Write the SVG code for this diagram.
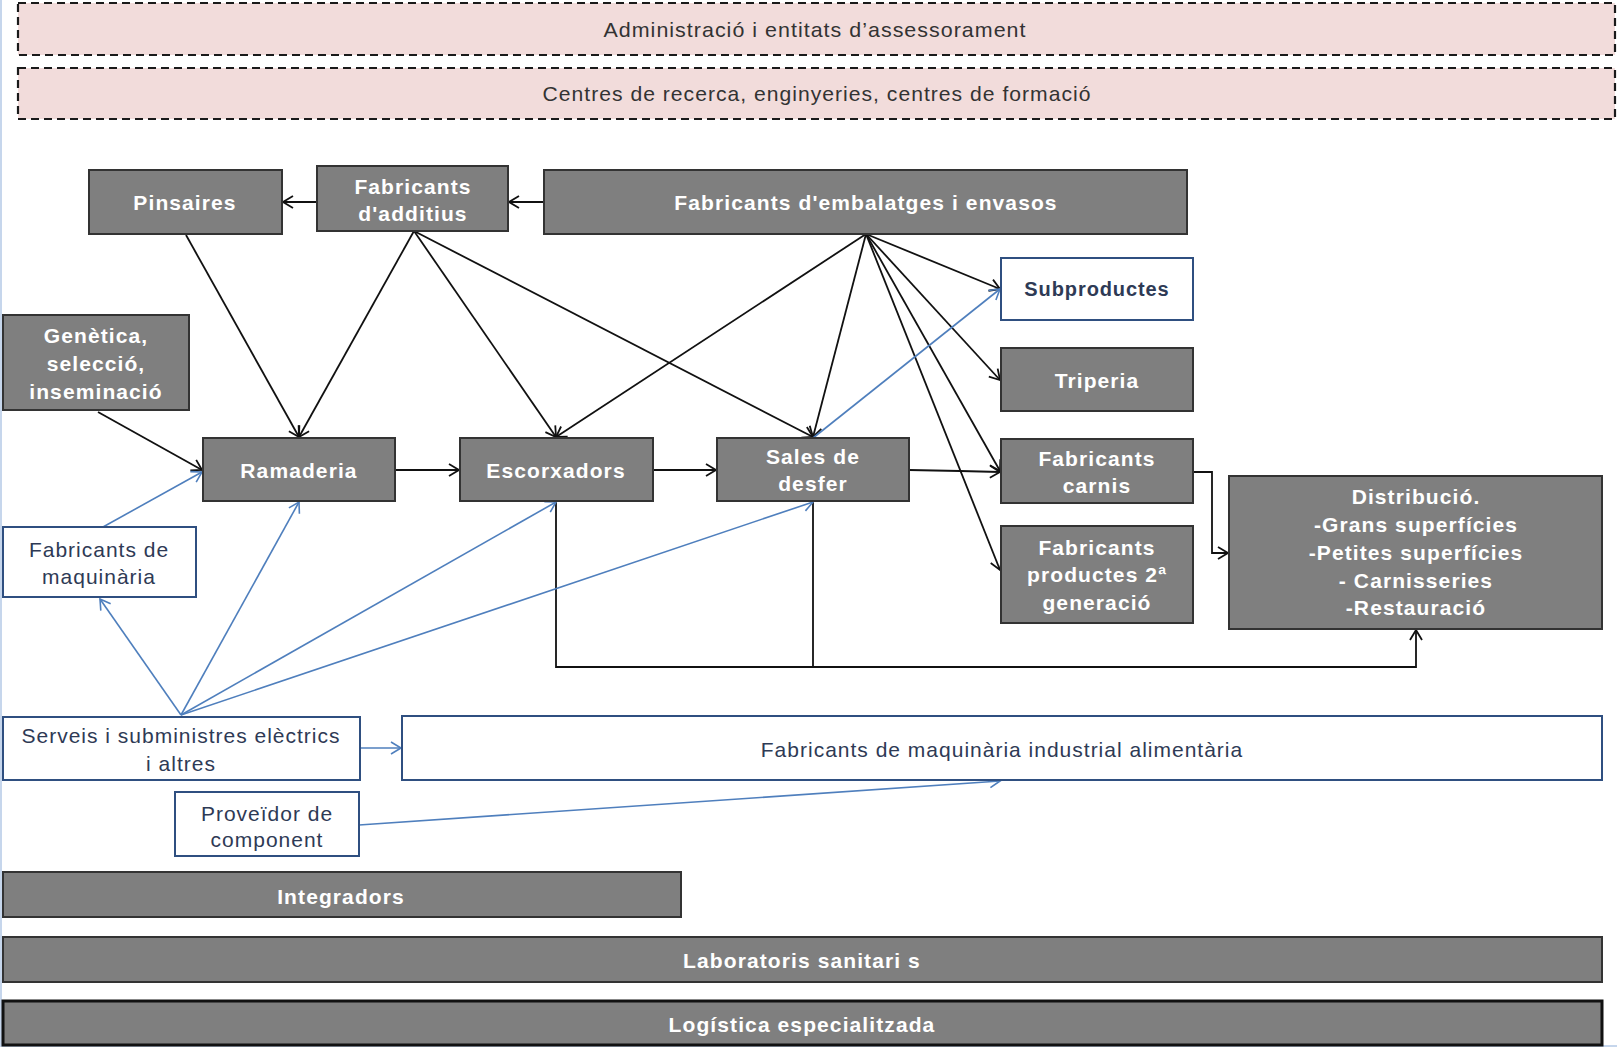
<svg xmlns="http://www.w3.org/2000/svg" width="1617" height="1048" viewBox="0 0 1617 1048">
<style>
.band{fill:#f2dcdb;stroke:#1a1a1a;stroke-width:2.2;stroke-dasharray:8 5}
.bandt{font-family:"Liberation Sans",Arial,sans-serif;font-size:21px;fill:#333;text-anchor:middle;dominant-baseline:central;letter-spacing:1px}
.dk{fill:#7f7f7f;stroke:#333;stroke-width:2}
.dkt{font-family:"Liberation Sans",Arial,sans-serif;font-size:21px;font-weight:bold;fill:#fff;text-anchor:middle;dominant-baseline:central;letter-spacing:1.1px}
.wb{fill:#fff;stroke:#2f4f80;stroke-width:2}
.wbt{font-family:"Liberation Sans",Arial,sans-serif;font-size:21px;fill:#2e3a55;text-anchor:middle;dominant-baseline:central;letter-spacing:1px}
.bl{fill:none;stroke:#111;stroke-width:1.8}
.bu{fill:none;stroke:#4f7fbd;stroke-width:1.6}
</style>
<defs>
<marker id="ab" markerUnits="userSpaceOnUse" markerWidth="16" markerHeight="16" refX="12" refY="7" orient="auto">
<path d="M2,1 L12,7 L2,13" fill="none" stroke="#111" stroke-width="1.8"/>
</marker>
<marker id="au" markerUnits="userSpaceOnUse" markerWidth="16" markerHeight="16" refX="12" refY="7" orient="auto">
<path d="M2,1 L12,7 L2,13" fill="none" stroke="#4f7fbd" stroke-width="1.6"/>
</marker>
</defs>
<rect width="1617" height="1048" fill="#fff"/>
<path d="M1,0 V1046 H1617" fill="none" stroke="#c6d6ec" stroke-width="2"/>

<g id="admin"><rect class="band" x="18" y="3" width="1597" height="52"/><text class="bandt" x="815" y="29" textLength="423" lengthAdjust="spacingAndGlyphs">Administració  i entitats d’assessorament</text></g>
<g id="centres"><rect class="band" x="18" y="68" width="1597" height="51"/><text class="bandt" x="817" y="93" textLength="549" lengthAdjust="spacingAndGlyphs">Centres de recerca, enginyeries, centres de formació</text></g>

<g id="connectors">
<line class="bl" x1="317" y1="202" x2="283" y2="202" marker-end="url(#ab)"/>
<line class="bl" x1="544" y1="202" x2="509" y2="202" marker-end="url(#ab)"/>
<line class="bl" x1="186" y1="235" x2="299" y2="437" marker-end="url(#ab)"/>
<line class="bl" x1="414" y1="231" x2="299" y2="437" marker-end="url(#ab)"/>
<line class="bl" x1="414" y1="231" x2="556" y2="437" marker-end="url(#ab)"/>
<line class="bl" x1="414" y1="231" x2="813" y2="437" marker-end="url(#ab)"/>
<line class="bl" x1="866" y1="234" x2="556" y2="437" marker-end="url(#ab)"/>
<line class="bl" x1="866" y1="234" x2="813" y2="437" marker-end="url(#ab)"/>
<line class="bl" x1="866" y1="234" x2="1000" y2="289" marker-end="url(#ab)"/>
<line class="bl" x1="866" y1="234" x2="1000" y2="380" marker-end="url(#ab)"/>
<line class="bl" x1="866" y1="234" x2="1000" y2="471" marker-end="url(#ab)"/>
<line class="bl" x1="866" y1="234" x2="1000" y2="570" marker-end="url(#ab)"/>
<line class="bl" x1="98" y1="412" x2="202" y2="470" marker-end="url(#ab)"/>
<line class="bl" x1="395" y1="470" x2="459" y2="470" marker-end="url(#ab)"/>
<line class="bl" x1="653" y1="470" x2="716" y2="470" marker-end="url(#ab)"/>
<polyline class="bl" points="909,470 960,471 1000,472" marker-end="url(#ab)"/>
<polyline class="bl" points="1193,472 1212,472 1212,553 1228,553" marker-end="url(#ab)"/>
<polyline class="bl" points="556,501 556,667 1416,667 1416,630" marker-end="url(#ab)"/>
<line class="bl" x1="813" y1="501" x2="813" y2="667"/>
<line class="bu" x1="103" y1="527" x2="202" y2="472" marker-end="url(#au)"/>
<line class="bu" x1="181" y1="715" x2="100" y2="599" marker-end="url(#au)"/>
<line class="bu" x1="181" y1="715" x2="299" y2="502" marker-end="url(#au)"/>
<line class="bu" x1="181" y1="715" x2="556" y2="502" marker-end="url(#au)"/>
<line class="bu" x1="181" y1="715" x2="813" y2="502" marker-end="url(#au)"/>
<line class="bu" x1="813" y1="438" x2="1000" y2="289" marker-end="url(#au)"/>
<line class="bu" x1="360" y1="748" x2="401" y2="748" marker-end="url(#au)"/>
<line class="bu" x1="359" y1="825" x2="1000" y2="781" marker-end="url(#au)"/>
</g>

<g id="pinsaires"><rect class="dk" x="89" y="170" width="193" height="64"/><text class="dkt" x="185" y="202">Pinsaires</text></g>
<g id="additius"><rect class="dk" x="317" y="166" width="191" height="65"/><text class="dkt" x="413" y="186">Fabricants</text><text class="dkt" x="413" y="213">d'additius</text></g>
<g id="embalatges"><rect class="dk" x="544" y="170" width="643" height="64"/><text class="dkt" x="866" y="202">Fabricants d'embalatges i envasos</text></g>
<g id="genetica"><rect class="dk" x="3" y="315" width="186" height="95"/><text class="dkt" x="96" y="335">Genètica,</text><text class="dkt" x="96" y="363">selecció,</text><text class="dkt" x="96" y="391">inseminació</text></g>
<g id="ramaderia"><rect class="dk" x="203" y="438" width="192" height="63"/><text class="dkt" x="299" y="470">Ramaderia</text></g>
<g id="escorxadors"><rect class="dk" x="460" y="438" width="193" height="63"/><text class="dkt" x="556" y="470">Escorxadors</text></g>
<g id="sales"><rect class="dk" x="717" y="438" width="192" height="63"/><text class="dkt" x="813" y="456">Sales de</text><text class="dkt" x="813" y="483">desfer</text></g>
<g id="subproductes"><rect class="wb" x="1001" y="258" width="192" height="62"/><text class="wbt" x="1097" y="289" style="font-weight:bold;font-size:20px;letter-spacing:0.9px">Subproductes</text></g>
<g id="triperia"><rect class="dk" x="1001" y="348" width="192" height="63"/><text class="dkt" x="1097" y="380">Triperia</text></g>
<g id="carnis"><rect class="dk" x="1001" y="439" width="192" height="64"/><text class="dkt" x="1097" y="458">Fabricants</text><text class="dkt" x="1097" y="485">carnis</text></g>
<g id="productes2"><rect class="dk" x="1001" y="526" width="192" height="97"/><text class="dkt" x="1097" y="547">Fabricants</text><text class="dkt" x="1097" y="574">productes 2ª</text><text class="dkt" x="1097" y="602">generació</text></g>
<g id="distribucio"><rect class="dk" x="1229" y="476" width="373" height="153"/><text class="dkt" x="1416" y="496">Distribució.</text><text class="dkt" x="1416" y="524">-Grans superfícies</text><text class="dkt" x="1416" y="552">-Petites superfícies</text><text class="dkt" x="1416" y="580">- Carnisseries</text><text class="dkt" x="1416" y="607">-Restauració</text></g>
<g id="maquinaria"><rect class="wb" x="3" y="527" width="193" height="70"/><text class="wbt" x="99" y="549">Fabricants de</text><text class="wbt" x="99" y="576">maquinària</text></g>
<g id="serveis"><rect class="wb" x="3" y="717" width="357" height="63"/><text class="wbt" x="181" y="735">Serveis i subministres elèctrics</text><text class="wbt" x="181" y="763">i altres</text></g>
<g id="maqindustrial"><rect class="wb" x="402" y="716" width="1200" height="64"/><text class="wbt" x="1002" y="749">Fabricants de maquinària industrial alimentària</text></g>
<g id="proveidor"><rect class="wb" x="175" y="792" width="184" height="64"/><text class="wbt" x="267" y="813">Proveïdor de</text><text class="wbt" x="267" y="839">component</text></g>
<g id="integradors"><rect class="dk" x="3" y="872" width="678" height="45"/><text class="dkt" x="341" y="896">Integradors</text></g>
<g id="laboratoris"><rect class="dk" x="3" y="937" width="1599" height="45"/><text class="dkt" x="802" y="960">Laboratoris sanitari s</text></g>
<g id="logistica"><rect class="dk" x="3" y="1001" width="1599" height="44" style="stroke:#111;stroke-width:3"/><text class="dkt" x="802" y="1024">Logística especialitzada</text></g>
</svg>
